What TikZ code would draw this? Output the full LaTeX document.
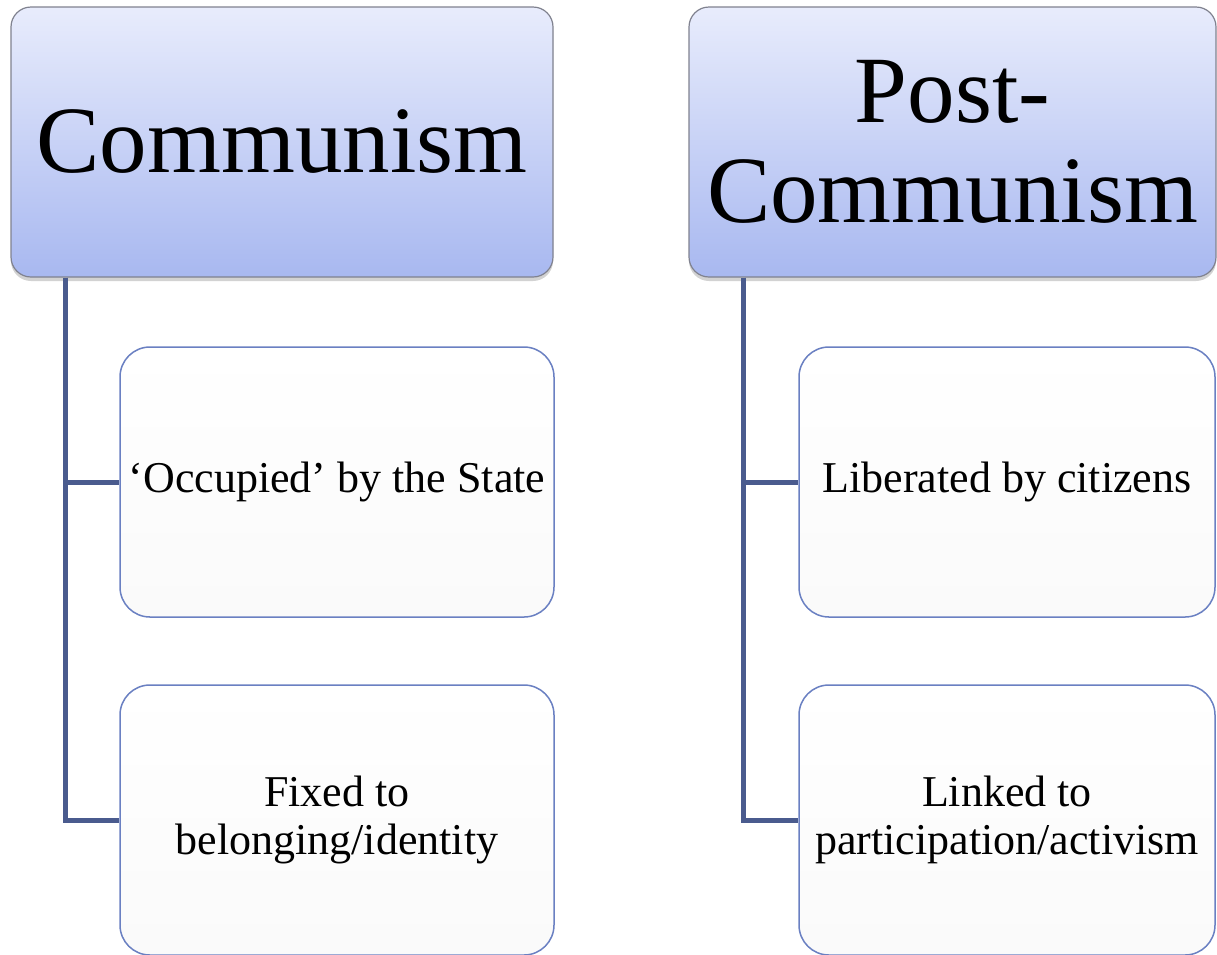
\documentclass[tikz,border=0pt]{standalone}
\usepackage{fontspec}
\setmainfont{Liberation Serif}
\usetikzlibrary{shadows,shadings}
\definecolor{hdtop}{HTML}{E8ECFC}
\definecolor{hdbot}{HTML}{A8B8F0}
\definecolor{hdborder}{HTML}{80828F}
\definecolor{chborder}{HTML}{6A80C2}
\definecolor{conncol}{HTML}{4A5B8E}
\tikzset{
  header/.style={draw=hdborder, line width=1.2pt, rounded corners=20pt,
    top color=hdtop, bottom color=hdbot, minimum height=270pt, inner sep=0pt,
    align=center, font=\fontsize{95}{100}\selectfont,
    drop shadow={opacity=0.35, shadow xshift=0pt, shadow yshift=-4pt}},
  child/.style={draw=chborder, line width=1.5pt, rounded corners=30pt,
    top color=white, bottom color=white!96!gray, minimum height=270pt, inner sep=0pt,
    align=center, font=\fontsize{44}{48}\selectfont},
  conn/.style={draw=conncol, line width=5pt}
}
\begin{document}
\begin{tikzpicture}[x=1pt,y=-1pt]
\useasboundingbox[fill=white] (0,0) rectangle (1217,954);
\begin{scope}
\clip (0,0) rectangle (1217,954);
% left column
\node[header, minimum width=542pt] (h1) at (282,142) {Communism};
\node[child, minimum width=434pt] (l1) at (337,482) {`Occupied' by the State};
\node[child, minimum width=434pt] (l2) at (337,820) {Fixed to\\belonging/identity};
\draw[conn] ([xshift=55pt]h1.south west) |- (l1.west);
\draw[conn] ([xshift=55pt]h1.south west) |- (l2.west);
% right column
\node[header, minimum width=527pt] (h2) at (952.5,142) {Post-\\Communism};
\node[child, minimum width=416pt] (r1) at (1007,482) {Liberated by citizens};
\node[child, minimum width=416pt] (r2) at (1007,820) {Linked to\\participation/activism};
\draw[conn] ([xshift=55pt]h2.south west) |- (r1.west);
\draw[conn] ([xshift=55pt]h2.south west) |- (r2.west);
\end{scope}
\end{tikzpicture}
\end{document}
